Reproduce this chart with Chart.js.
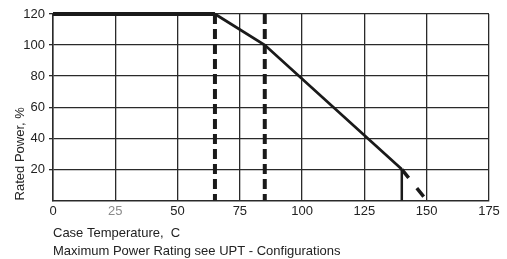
<!DOCTYPE html>
<html>
<head>
<meta charset="utf-8">
<script src="https://cdn.jsdelivr.net/npm/chart.js@4"></script>
<style>
  body { margin: 0; background: #fff; }
</style>
</head>
<body>
<canvas id="chart" width="507" height="259"></canvas>
<script>
// derating curve, case temperature (C) vs rated power (%)
var flatTemp = [0, 65];
var flatPower = [120, 120];
var slopeTemp = [65, 85, 140];
var slopePower = [120, 100, 20];
var dash65Temp = [65, 65];
var dash85Temp = [85, 85];
var dashPower = [120, 0];
var dropTemp = [140, 140];
var dropPower = [20, 0];
var extTemp = [140, 150];
var extPower = [20, 0];

var xTicks = [0, 25, 50, 75, 100, 125, 150, 175];
var yTicks = [20, 40, 60, 80, 100, 120];

function pts(xs, ys) {
  let out = [];
  for (let i = 0; i < xs.length; i++) out.push({x: xs[i], y: ys[i]});
  return out;
}

var ink = '#1a1a1a';
var font = 'Liberation Sans, Arial, sans-serif';

function line(xs, ys, width, dash) {
  return {
    data: pts(xs, ys),
    showLine: true,
    borderColor: ink,
    borderWidth: width,
    borderDash: dash || [],
    borderCapStyle: 'butt',
    pointRadius: 0,
    clip: false
  };
}

new Chart(document.getElementById('chart'), {
  type: 'scatter',
  data: {
    datasets: [
      line(dash65Temp, dashPower, 4, [10, 5]),
      line(dash85Temp, dashPower, 4, [10, 5]),
      line(dropTemp, dropPower, 2.5),
      line(extTemp, extPower, 3.5, [11, 13]),
      line(slopeTemp, slopePower, 2.8),
      line(flatTemp, flatPower, 4)
    ]
  },
  options: {
    responsive: false,
    devicePixelRatio: 1,
    animation: false,
    layout: { padding: { top: 14, right: 18, bottom: 0, left: 0 } },
    plugins: { legend: { display: false }, tooltip: { enabled: false } },
    scales: {
      x: {
        type: 'linear',
        min: 0, max: 175,
        afterBuildTicks: function(s) { s.ticks = xTicks.map(function(v) { return {value: v}; }); },
        grid: { color: '#2a2a2a', lineWidth: 1.3, drawTicks: false },
        border: { color: '#2a2a2a', width: 1.5 },
        ticks: {
          padding: 3,
          maxRotation: 0,
          font: { family: font, size: 13 },
          color: function(c) { return c.tick && c.tick.value === 25 ? '#8a8a8a' : '#222'; }
        },
        title: {
          display: true,
          text: ['Case Temperature,  C', 'Maximum Power Rating see UPT - Configurations'],
          align: 'start',
          color: '#222',
          font: { family: font, size: 13, lineHeight: 18 / 13 },
          padding: { top: 2, bottom: -1 }
        }
      },
      y: {
        min: 0, max: 120,
        afterBuildTicks: function(s) { s.ticks = yTicks.map(function(v) { return {value: v}; }); },
        afterFit: function(s) { s.width = 53; },
        grid: { color: '#2a2a2a', lineWidth: 1.3, tickLength: 4 },
        border: { color: '#2a2a2a', width: 1.5 },
        ticks: {
          padding: 4,
          color: '#222',
          font: { family: font, size: 13 }
        },
        title: {
          display: true,
          text: 'Rated Power, %',
          align: 'start',
          color: '#222',
          font: { family: font, size: 13 },
          padding: { top: 13, bottom: 0 }
        }
      }
    }
  }
});
</script>
</body>
</html>
